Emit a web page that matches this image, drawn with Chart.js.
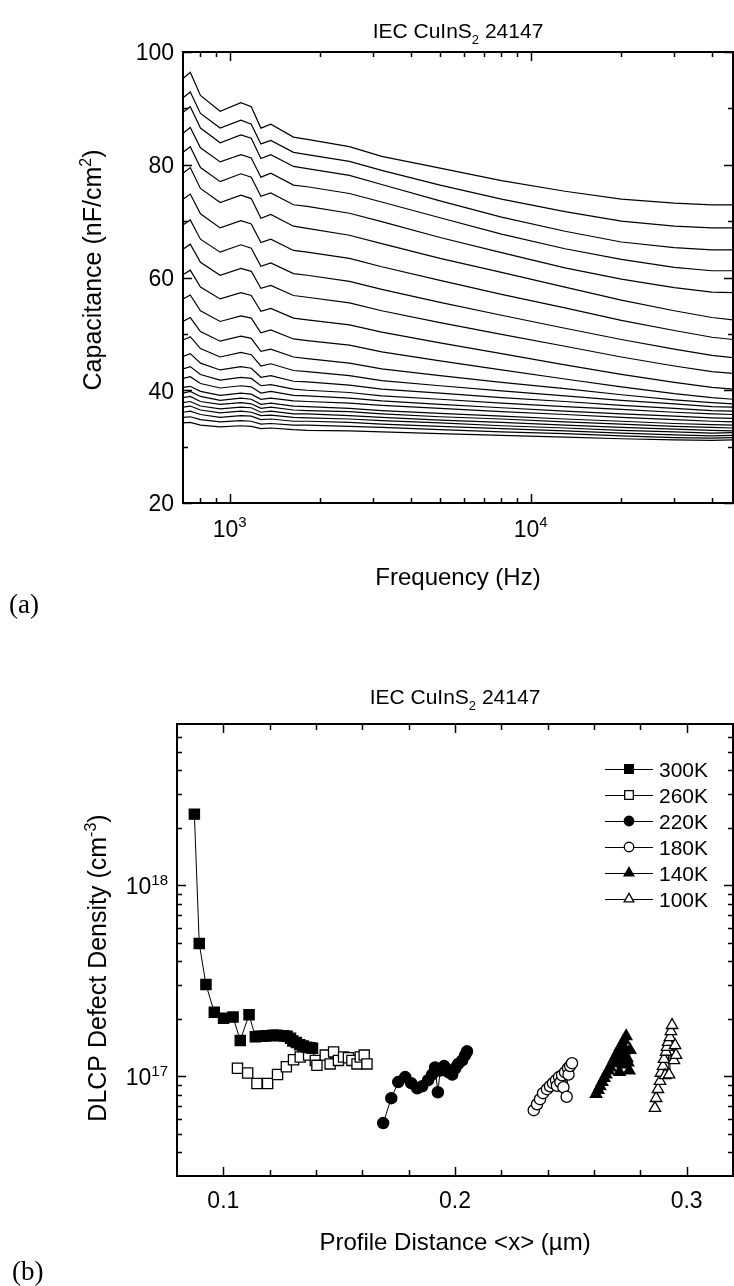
<!DOCTYPE html>
<html>
<head>
<meta charset="utf-8">
<title>IEC CuInS2 24147</title>
<script src="https://cdn.jsdelivr.net/npm/chart.js@4/dist/chart.umd.min.js"></script>
<style>
  html, body { margin: 0; padding: 0; background: #fff; }
  #wrap { position: relative; width: 734px; height: 1286px; overflow: hidden; }
  canvas { position: absolute; left: 0; }
  #capChart { top: 0; }
  #dlcpChart { top: 650px; }
</style>
</head>
<body>
<div id="wrap">
  <canvas id="capChart" width="734" height="650"></canvas>
  <canvas id="dlcpChart" width="734" height="636"></canvas>
</div>
<script>
// ---- (a) capacitance spectra, one trace per temperature step ----
const freqHz = [700, 740, 800, 930, 1090, 1180, 1270, 1370, 1630, 1810, 2500, 3200, 5000, 8000, 13000, 20000, 30000, 40000, 47000];

const cap01 = [95.3, 96.4, 92.3, 89.5, 91.0, 90.3, 86.5, 87.2, 84.9, 84.5, 83.2, 81.5, 79.4, 77.2, 75.3, 73.9, 73.2, 72.9, 72.9];
const cap02 = [91.9, 92.9, 89.1, 86.5, 87.9, 87.2, 83.7, 84.3, 82.2, 81.8, 80.6, 79.0, 76.4, 73.9, 71.7, 70.0, 69.1, 68.8, 68.8];
const cap03 = [89.3, 90.3, 86.5, 83.9, 85.3, 84.7, 81.1, 81.8, 79.7, 79.3, 78.1, 76.5, 73.6, 70.7, 68.2, 66.3, 65.3, 64.9, 64.9];
const cap04 = [85.6, 86.6, 83.0, 80.5, 81.8, 81.2, 77.8, 78.5, 76.4, 76.1, 74.9, 73.4, 70.6, 67.7, 65.1, 63.2, 61.8, 61.2, 61.2];
const cap05 = [82.2, 83.2, 79.5, 77.0, 78.4, 77.8, 74.4, 75.0, 72.9, 72.6, 71.4, 69.9, 67.1, 64.4, 61.7, 59.7, 58.2, 57.4, 57.3];
const cap06 = [78.5, 79.5, 75.8, 73.3, 74.6, 74.0, 70.5, 71.2, 69.1, 68.7, 67.5, 66.0, 63.4, 60.9, 58.3, 56.0, 54.1, 52.9, 52.5];
const cap07 = [73.9, 74.8, 71.3, 68.8, 70.1, 69.5, 66.2, 66.8, 64.8, 64.5, 63.4, 61.9, 59.5, 57.0, 54.6, 52.4, 50.6, 49.4, 49.0];
const cap08 = [69.3, 70.2, 66.8, 64.5, 65.8, 65.2, 62.0, 62.6, 60.7, 60.4, 59.3, 57.9, 55.6, 53.3, 51.0, 49.0, 47.3, 46.2, 45.8];
const cap09 = [65.0, 65.9, 62.7, 60.4, 61.6, 61.1, 58.1, 58.6, 56.8, 56.5, 55.5, 54.1, 52.0, 49.9, 47.8, 45.9, 44.3, 43.3, 43.0];
const cap10 = [60.5, 61.3, 58.3, 56.2, 57.3, 56.8, 54.0, 54.5, 52.8, 52.5, 51.6, 50.3, 48.4, 46.5, 44.5, 42.8, 41.4, 40.5, 40.2];
const cap11 = [56.2, 56.9, 54.1, 52.2, 53.2, 52.8, 50.2, 50.7, 49.1, 48.8, 48.0, 46.8, 45.2, 43.6, 42.0, 40.6, 39.4, 38.7, 38.4];
const cap12 = [52.2, 52.9, 50.4, 48.7, 49.6, 49.2, 46.9, 47.3, 45.9, 45.6, 44.8, 43.8, 42.6, 41.4, 40.3, 39.2, 38.3, 37.8, 37.6];
const cap13 = [48.9, 49.5, 47.4, 45.9, 46.7, 46.3, 44.3, 44.7, 43.5, 43.3, 42.6, 41.7, 40.8, 39.9, 39.0, 38.2, 37.6, 37.1, 37.0];
const cap14 = [46.0, 46.5, 44.8, 43.6, 44.2, 43.9, 42.3, 42.6, 41.6, 41.5, 40.9, 40.2, 39.5, 38.7, 38.0, 37.3, 36.8, 36.4, 36.3];
const cap15 = [43.8, 44.2, 42.8, 41.8, 42.3, 42.1, 40.8, 41.0, 40.2, 40.0, 39.6, 39.0, 38.4, 37.7, 37.1, 36.6, 36.1, 35.8, 35.7];
const cap16 = [42.1, 42.4, 41.2, 40.4, 40.8, 40.6, 39.5, 39.8, 39.1, 39.0, 38.6, 38.1, 37.5, 36.9, 36.3, 35.8, 35.4, 35.1, 35.0];
const cap17 = [40.5, 40.7, 39.8, 39.1, 39.5, 39.3, 38.4, 38.6, 38.1, 38.0, 37.7, 37.3, 36.8, 36.2, 35.7, 35.2, 34.8, 34.5, 34.4];
const cap18 = [39.5, 39.8, 38.9, 38.2, 38.6, 38.4, 37.5, 37.7, 37.2, 37.1, 36.8, 36.4, 35.9, 35.4, 34.9, 34.5, 34.1, 33.9, 33.8];
const cap19 = [38.7, 38.9, 38.0, 37.5, 37.8, 37.6, 36.8, 37.0, 36.5, 36.4, 36.2, 35.8, 35.3, 34.9, 34.4, 34.0, 33.6, 33.4, 33.3];
const cap20 = [37.8, 38.0, 37.2, 36.7, 37.0, 36.9, 36.1, 36.3, 35.8, 35.8, 35.5, 35.2, 34.7, 34.3, 33.8, 33.4, 33.1, 32.9, 32.8];
const cap21 = [37.0, 37.2, 36.5, 36.0, 36.3, 36.1, 35.5, 35.6, 35.2, 35.1, 34.9, 34.6, 34.2, 33.7, 33.3, 32.9, 32.6, 32.4, 32.5];
const cap22 = [36.1, 36.3, 35.7, 35.2, 35.5, 35.4, 34.8, 34.9, 34.5, 34.5, 34.3, 34.0, 33.6, 33.2, 32.8, 32.4, 32.1, 31.9, 32.0];
const cap23 = [35.2, 35.3, 34.8, 34.4, 34.6, 34.5, 34.0, 34.1, 33.8, 33.8, 33.6, 33.4, 33.0, 32.6, 32.3, 31.9, 31.6, 31.5, 31.6];
const cap24 = [34.2, 34.3, 33.8, 33.5, 33.7, 33.6, 33.2, 33.3, 33.0, 32.9, 32.8, 32.6, 32.3, 32.0, 31.7, 31.4, 31.2, 31.1, 31.2];

const capCurves = [cap01, cap02, cap03, cap04, cap05, cap06, cap07, cap08, cap09, cap10, cap11, cap12,
                   cap13, cap14, cap15, cap16, cap17, cap18, cap19, cap20, cap21, cap22, cap23, cap24];

const freqMajor = [1000, 10000];
const freqMinor = [800, 900, 2000, 3000, 4000, 5000, 6000, 7000, 8000, 9000, 20000, 30000, 40000];
const capMajor = [20, 40, 60, 80, 100];
const capMinor = [30, 50, 70, 90];

// ---- (b) DLCP profiles ----
const tempLabels = ['300K', '260K', '220K', '180K', '140K', '100K'];

const x300 = [0.0875, 0.0896, 0.0925, 0.0961, 0.1001, 0.1042, 0.1073, 0.1111, 0.1138, 0.1155, 0.1170, 0.1185, 0.1200,
              0.1215, 0.1230, 0.1245, 0.1260, 0.1275, 0.1290, 0.1300, 0.1315, 0.1330, 0.1345, 0.1360, 0.1375, 0.1385];
const n300 = [2.36e18, 4.95e17, 3.02e17, 2.16e17, 2.01e17, 2.04e17, 1.54e17, 2.10e17, 1.61e17, 1.62e17, 1.62e17, 1.63e17, 1.63e17,
              1.64e17, 1.64e17, 1.63e17, 1.63e17, 1.62e17, 1.58e17, 1.53e17, 1.50e17, 1.46e17, 1.44e17, 1.42e17, 1.41e17, 1.40e17];

const x260 = [0.1061, 0.1105, 0.1145, 0.1191, 0.1234, 0.1272, 0.1303, 0.1332, 0.1368, 0.1397, 0.1404,
              0.1440, 0.1461, 0.1476, 0.1497, 0.1519, 0.1540, 0.1555, 0.1577, 0.1591, 0.1608, 0.1620];
const n260 = [1.10e17, 1.04e17, 9.16e16, 9.16e16, 1.02e17, 1.12e17, 1.22e17, 1.26e17, 1.29e17, 1.21e17, 1.14e17,
              1.29e17, 1.16e17, 1.34e17, 1.21e17, 1.26e17, 1.25e17, 1.21e17, 1.16e17, 1.26e17, 1.29e17, 1.16e17];

const x220 = [0.1690, 0.1725, 0.1755, 0.1785, 0.1811, 0.1837, 0.1858, 0.1884, 0.1901, 0.1914,
              0.1926, 0.1936, 0.1953, 0.1971, 0.1988, 0.2001, 0.2014, 0.2031, 0.2044, 0.2052];
const n220 = [5.68e16, 7.67e16, 9.31e16, 9.89e16, 9.19e16, 8.65e16, 8.86e16, 9.53e16, 1.02e17, 1.11e17,
              8.24e16, 1.07e17, 1.13e17, 1.05e17, 1.02e17, 1.10e17, 1.16e17, 1.21e17, 1.29e17, 1.35e17];

const x180 = [0.2340, 0.2354, 0.2367, 0.2380, 0.2397, 0.2410, 0.2423, 0.2436, 0.2440,
              0.2449, 0.2455, 0.2462, 0.2468, 0.2475, 0.2482, 0.2488, 0.2490, 0.2497, 0.2505];
const n180 = [6.64e16, 7.13e16, 7.58e16, 8.15e16, 8.55e16, 8.86e16, 9.19e16, 9.53e16, 8.90e16,
              9.89e16, 9.30e16, 1.01e17, 8.75e16, 1.05e17, 7.80e16, 1.10e17, 1.02e17, 1.13e17, 1.17e17];

const x140 = [0.2609, 0.2618, 0.2626, 0.2635, 0.2644, 0.2652, 0.2661, 0.2670, 0.2678, 0.2687,
              0.2696, 0.2704, 0.2713, 0.2722, 0.2730, 0.2739, 0.2743, 0.2747, 0.2752, 0.2756,
              0.2700, 0.2710, 0.2716, 0.2725, 0.2730, 0.2735];
const n140 = [8.05e16, 8.45e16, 8.86e16, 9.31e16, 9.77e16, 1.02e17, 1.07e17, 1.11e17, 1.17e17, 1.23e17,
              1.29e17, 1.35e17, 1.42e17, 1.47e17, 1.54e17, 1.62e17, 1.24e17, 1.18e17, 1.07e17, 1.37e17,
              1.20e17, 1.05e17, 1.30e17, 1.15e17, 1.40e17, 1.28e17];

const x100 = [0.2863, 0.2868, 0.2876, 0.2885, 0.2889, 0.2898, 0.2902, 0.2907, 0.2911,
              0.2915, 0.2920, 0.2924, 0.2928, 0.2932, 0.2937, 0.2945, 0.2950, 0.2954];
const n100 = [6.80e16, 7.67e16, 8.55e16, 9.42e16, 1.04e17, 1.13e17, 1.23e17, 1.01e17, 1.34e17,
              1.42e17, 1.51e17, 1.02e17, 1.60e17, 1.72e17, 1.85e17, 1.21e17, 1.45e17, 1.29e17];

const distMajor = [0.1, 0.2, 0.3];
const distMinor = [0.12, 0.14, 0.16, 0.18, 0.22, 0.24, 0.26, 0.28];
const densMajor = [1e17, 1e18];
const densMinor = [4e16, 5e16, 6e16, 7e16, 8e16, 9e16, 2e17, 3e17, 4e17, 5e17, 6e17, 7e17, 8e17, 9e17,
                   2e18, 3e18, 4e18, 5e18, 6e18];

// marker look per temperature
const markerStyles = [
  { pointStyle: 'rect', radius: 7.2, fill: '#000' },
  { pointStyle: 'rect', radius: 7.2, fill: '#fff' },
  { pointStyle: 'circle', radius: 5.6, fill: '#000' },
  { pointStyle: 'circle', radius: 5.6, fill: '#fff' },
  { pointStyle: 'triangle', radius: 6.6, fill: '#000' },
  { pointStyle: 'triangle', radius: 6.6, fill: '#fff' }
];

const SANS = '"Liberation Sans", Arial, Helvetica, sans-serif';
const SERIF = '"Liberation Serif", "Times New Roman", serif';

// text with optional raised / lowered pieces: parts = [[text, 'sup'|'sub'|undefined], ...]
function drawRich(ctx, parts, x, baseline, align, size) {
  const small = Math.round(size * 0.64);
  const widths = parts.map(p => {
    ctx.font = (p[1] ? small : size) + 'px ' + SANS;
    return ctx.measureText(p[0]).width;
  });
  const total = widths.reduce((s, w) => s + w, 0);
  let cx = align === 'center' ? x - total / 2 : (align === 'right' ? x - total : x);
  ctx.textAlign = 'left';
  ctx.textBaseline = 'alphabetic';
  parts.forEach((p, i) => {
    ctx.font = (p[1] ? small : size) + 'px ' + SANS;
    let dy = 0;
    if (p[1] === 'sup') dy = -size * 0.42;
    if (p[1] === 'sub') dy = size * 0.3;
    ctx.fillText(p[0], cx, baseline + dy);
    cx += widths[i];
  });
}

function drawRotated(ctx, parts, cx, cy, size) {
  ctx.save();
  ctx.translate(cx, cy);
  ctx.rotate(-Math.PI / 2);
  drawRich(ctx, parts, 0, size * 0.36, 'center', size);
  ctx.restore();
}

// inward ticks on both opposite sides of the frame
function tickMarks(ctx, area, scale, values, len, horizontal) {
  values.forEach(v => {
    const p = Math.round(scale.getPixelForValue(v)) + 0.5;
    ctx.beginPath();
    if (horizontal) {
      ctx.moveTo(p, area.bottom); ctx.lineTo(p, area.bottom - len);
      ctx.moveTo(p, area.top); ctx.lineTo(p, area.top + len);
    } else {
      ctx.moveTo(area.left, p); ctx.lineTo(area.left + len, p);
      ctx.moveTo(area.right, p); ctx.lineTo(area.right - len, p);
    }
    ctx.stroke();
  });
}

function drawFrame(ctx, a) {
  ctx.lineWidth = 2;
  ctx.strokeRect(a.left, a.top, a.right - a.left, a.bottom - a.top);
  ctx.lineWidth = 1.5;
}

const capAxes = {
  id: 'capAxes',
  afterDraw(chart) {
    const { ctx, chartArea: a, scales: { x, y } } = chart;
    ctx.save();
    ctx.strokeStyle = '#000';
    ctx.fillStyle = '#000';
    drawFrame(ctx, a);
    tickMarks(ctx, a, x, freqMajor, 9, true);
    tickMarks(ctx, a, x, freqMinor, 5, true);
    tickMarks(ctx, a, y, capMajor, 9, false);
    tickMarks(ctx, a, y, capMinor, 5, false);

    capMajor.forEach(v => drawRich(ctx, [[String(v)]], a.left - 9, y.getPixelForValue(v) + 8.3, 'right', 23));
    freqMajor.forEach(v => drawRich(ctx, [['10'], [String(Math.round(Math.log10(v))), 'sup']],
      x.getPixelForValue(v), 537, 'center', 23));

    const mid = (a.left + a.right) / 2;
    drawRich(ctx, [['IEC CuInS'], ['2', 'sub'], [' 24147']], mid, 38, 'center', 21);
    drawRich(ctx, [['Frequency (Hz)']], mid, 585, 'center', 24);
    drawRotated(ctx, [['Capacitance (nF/cm'], ['2', 'sup'], [')']], 92, 270, 25);

    ctx.font = '27px ' + SERIF;
    ctx.textAlign = 'left';
    ctx.textBaseline = 'middle';
    ctx.fillText('(a)', 9, 606);
    ctx.restore();
  }
};

function drawMarker(ctx, st, x, y) {
  ctx.fillStyle = st.fill;
  ctx.strokeStyle = '#000';
  ctx.lineWidth = 1.3;
  if (Chart.helpers && Chart.helpers.drawPoint) {
    Chart.helpers.drawPoint(ctx, { pointStyle: st.pointStyle, radius: st.radius * 0.85, rotation: 0, borderWidth: 1.3 }, x, y);
  }
}

const dlcpAxes = {
  id: 'dlcpAxes',
  afterDraw(chart) {
    const { ctx, chartArea: a, scales: { x, y } } = chart;
    ctx.save();
    ctx.strokeStyle = '#000';
    ctx.fillStyle = '#000';
    drawFrame(ctx, a);
    tickMarks(ctx, a, x, distMajor, 9, true);
    tickMarks(ctx, a, x, distMinor, 6, true);
    tickMarks(ctx, a, y, densMajor, 9, false);
    tickMarks(ctx, a, y, densMinor, 5, false);

    densMajor.forEach(v => drawRich(ctx, [['10'], [String(Math.round(Math.log10(v))), 'sup']],
      a.left - 9, y.getPixelForValue(v) + 9, 'right', 23));
    distMajor.forEach(v => drawRich(ctx, [[v.toFixed(1)]], x.getPixelForValue(v), 558, 'center', 23));

    const mid = (a.left + a.right) / 2;
    drawRich(ctx, [['IEC CuInS'], ['2', 'sub'], [' 24147']], mid, 54, 'center', 21);
    drawRich(ctx, [['Profile Distance <x> (\u00b5m)']], mid, 600, 'center', 24);
    drawRotated(ctx, [['DLCP Defect Density (cm'], ['-3', 'sup'], [')']], 97, 318, 25);

    // legend: short line with the marker, then the temperature
    tempLabels.forEach((t, i) => {
      const ly = 119 + i * 26;
      ctx.strokeStyle = '#000';
      ctx.lineWidth = 1;
      ctx.beginPath();
      ctx.moveTo(605, ly + 0.5);
      ctx.lineTo(653, ly + 0.5);
      ctx.stroke();
      drawMarker(ctx, markerStyles[i], 629, ly);
      ctx.fillStyle = '#000';
      drawRich(ctx, [[t]], 659, ly + 7.6, 'left', 21);
    });

    ctx.font = '27px ' + SERIF;
    ctx.textAlign = 'left';
    ctx.textBaseline = 'middle';
    ctx.fillStyle = '#000';
    ctx.fillText('(b)', 12, 623);
    ctx.restore();
  }
};

new Chart(document.getElementById('capChart'), {
  type: 'line',
  data: {
    datasets: capCurves.map(c => ({
      data: c.map((v, i) => ({ x: freqHz[i], y: v })),
      borderColor: '#000',
      borderWidth: 1.2,
      pointRadius: 0,
      fill: false,
      tension: 0
    }))
  },
  options: {
    responsive: false,
    animation: false,
    devicePixelRatio: 1,
    layout: { autoPadding: false, padding: { left: 183, right: 1, top: 52, bottom: 147 } },
    plugins: { legend: { display: false }, tooltip: { enabled: false } },
    scales: {
      x: { type: 'logarithmic', min: 700, max: 47000, display: false },
      y: { type: 'linear', min: 20, max: 100, display: false }
    }
  },
  plugins: [capAxes]
});

const profiles = [[x300, n300], [x260, n260], [x220, n220], [x180, n180], [x140, n140], [x100, n100]];

new Chart(document.getElementById('dlcpChart'), {
  type: 'line',
  data: {
    datasets: profiles.map((p, k) => ({
      label: tempLabels[k],
      data: p[0].map((xv, i) => ({ x: xv, y: p[1][i] })),
      borderColor: '#000',
      borderWidth: 1,
      pointStyle: markerStyles[k].pointStyle,
      pointRadius: markerStyles[k].radius,
      pointBackgroundColor: markerStyles[k].fill,
      pointBorderColor: '#000',
      pointBorderWidth: 1.3,
      fill: false,
      tension: 0
    }))
  },
  options: {
    responsive: false,
    animation: false,
    devicePixelRatio: 1,
    layout: { autoPadding: false, padding: { left: 177, right: 1, top: 74, bottom: 110 } },
    plugins: { legend: { display: false }, tooltip: { enabled: false } },
    scales: {
      x: { type: 'linear', min: 0.08, max: 0.32, display: false },
      y: { type: 'logarithmic', min: 3e16, max: 7e18, display: false }
    }
  },
  plugins: [dlcpAxes]
});
</script>
</body>
</html>
